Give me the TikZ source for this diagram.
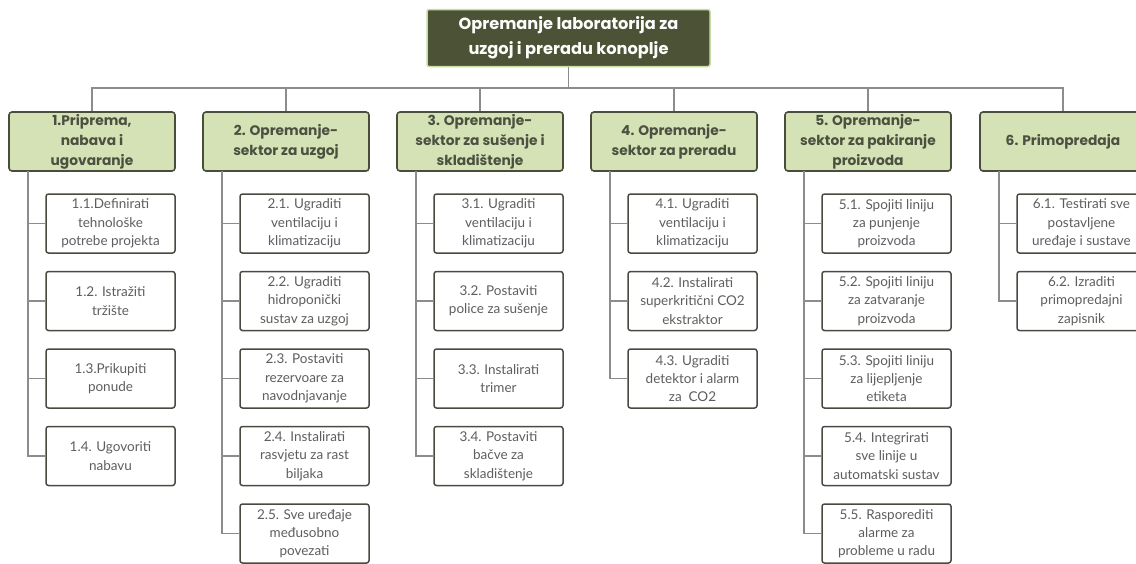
\documentclass[tikz,border=0pt]{standalone}
\usepackage{fontspec}
\setmainfont{Poppins}
\newfontfamily\leaffont{Lato}
\usetikzlibrary{positioning}

\definecolor{rootfill}{HTML}{4B5236}
\definecolor{rootedge}{HTML}{C9DCA5}
\definecolor{catfill}{HTML}{D5E2B5}
\definecolor{catedge}{HTML}{4A4C3C}
\definecolor{cattext}{HTML}{4B5040}
\definecolor{leafedge}{HTML}{4A4A42}
\definecolor{leaftext}{HTML}{5E5E5E}
\definecolor{linkgray}{HTML}{8C8C8C}

\begin{document}
\begin{tikzpicture}[x=1pt,y=-1pt,
		rootbox/.style={rectangle,rounded corners=2pt,draw=rootedge,line width=1.5pt,fill=rootfill,text=white!94!rootedge,minimum width=283pt,minimum height=57pt,inner sep=0pt,align=center,font=\bfseries\fontsize{16.2}{25}\selectfont},
		catbox/.style={rectangle,rounded corners=3pt,draw=catedge,line width=1.6pt,fill=catfill,text=cattext,minimum width=166pt,minimum height=59pt,inner sep=0pt,align=center,font=\bfseries\fontsize{13.8}{20}\selectfont},
		leafbox/.style={rectangle,rounded corners=2.5pt,draw=leafedge,line width=1.5pt,fill=white,text=leaftext,minimum width=129pt,minimum height=59pt,inner sep=0pt,align=center,font=\leaffont\fontsize{13.5}{18.3}\selectfont},
		link/.style={draw=linkgray,line width=1.2pt}]
	\useasboundingbox (0,0) rectangle (1136,563);
	%% define root
	\node (root) at (568.5,38) [rootbox] {Opremanje laboratorija za\\uzgoj i preradu konoplje};
	\coordinate (bar) at (568.5,88);
	%% define sectors
	\node (c1) at (92,141.5) [catbox] {1.Priprema,\\nabava i\\ugovaranje};
	\node (c2) at (286,141.5) [catbox] {2. Opremanje-\\sektor za uzgoj};
	\node (c3) at (480,141.5) [catbox] {3. Opremanje-\\sektor za sušenje i\\skladištenje};
	\node (c4) at (674,141.5) [catbox] {4. Opremanje-\\sektor za preradu};
	\node (c5) at (868,141.5) [catbox] {5. Opremanje-\\sektor za pakiranje\\proizvoda};
	\node (c6) at (1063,141.5) [catbox] {6. Primopredaja};
	%% trunk tops
	\coordinate (t1) at (28,171);
	\coordinate (t2) at (222,171);
	\coordinate (t3) at (416,171);
	\coordinate (t4) at (610,171);
	\coordinate (t5) at (804,171);
	\coordinate (t6) at (999,171);
	%% define tasks
	\node (l11) at (110.5,223.5) [leafbox] {1.1.Definirati\\tehnološke\\potrebe projekta};
	\node (l12) at (110.5,301) [leafbox] {1.2. Istražiti\\tržište};
	\node (l13) at (110.5,378.5) [leafbox] {1.3.Prikupiti\\ponude};
	\node (l14) at (110.5,456) [leafbox] {1.4. Ugovoriti\\nabavu};
	%
	\node (l21) at (304.5,223.5) [leafbox] {2.1. Ugraditi\\ventilaciju i\\klimatizaciju};
	\node (l22) at (304.5,301) [leafbox] {2.2. Ugraditi\\hidroponički\\sustav za uzgoj};
	\node (l23) at (304.5,378.5) [leafbox] {2.3. Postaviti\\rezervoare za\\navodnjavanje};
	\node (l24) at (304.5,456) [leafbox] {2.4. Instalirati\\rasvjetu za rast\\biljaka};
	\node (l25) at (304.5,533.5) [leafbox] {2.5. Sve uređaje\\međusobno\\povezati};
	%
	\node (l31) at (498.5,223.5) [leafbox] {3.1. Ugraditi\\ventilaciju i\\klimatizaciju};
	\node (l32) at (498.5,301) [leafbox] {3.2. Postaviti\\police za sušenje};
	\node (l33) at (498.5,378.5) [leafbox] {3.3. Instalirati\\trimer};
	\node (l34) at (498.5,456) [leafbox] {3.4. Postaviti\\bačve za\\skladištenje};
	%
	\node (l41) at (692.5,223.5) [leafbox] {4.1. Ugraditi\\ventilaciju i\\klimatizaciju};
	\node (l42) at (692.5,301) [leafbox] {4.2. Instalirati\\superkritični CO2\\ekstraktor};
	\node (l43) at (692.5,378.5) [leafbox] {4.3. Ugraditi\\detektor i alarm\\za~~CO2};
	%
	\node (l51) at (886.5,223.5) [leafbox] {5.1. Spojiti liniju\\za punjenje\\proizvoda};
	\node (l52) at (886.5,301) [leafbox] {5.2. Spojiti liniju\\za zatvaranje\\proizvoda};
	\node (l53) at (886.5,378.5) [leafbox] {5.3. Spojiti liniju\\za lijepljenje\\etiketa};
	\node (l54) at (886.5,456) [leafbox] {5.4. Integrirati\\sve linije u\\automatski sustav};
	\node (l55) at (886.5,533.5) [leafbox] {5.5. Rasporediti\\alarme za\\probleme u radu};
	%
	\node (l61) at (1081.5,223.5) [leafbox] {6.1. Testirati sve\\postavljene\\uređaje i sustave};
	\node (l62) at (1081.5,301) [leafbox] {6.2. Izraditi\\primopredajni\\zapisnik};
	%% define links
	\draw[link] (root) -- (bar);
	\draw[link] (bar) -| (c1);
	\draw[link] (bar) -| (c2);
	\draw[link] (bar) -| (c3);
	\draw[link] (bar) -| (c4);
	\draw[link] (bar) -| (c5);
	\draw[link] (bar) -| (c6);
	\draw[link] (t1) |- (l11);
	\draw[link] (t1) |- (l12);
	\draw[link] (t1) |- (l13);
	\draw[link] (t1) |- (l14);
	\draw[link] (t2) |- (l21);
	\draw[link] (t2) |- (l22);
	\draw[link] (t2) |- (l23);
	\draw[link] (t2) |- (l24);
	\draw[link] (t2) |- (l25);
	\draw[link] (t3) |- (l31);
	\draw[link] (t3) |- (l32);
	\draw[link] (t3) |- (l33);
	\draw[link] (t3) |- (l34);
	\draw[link] (t4) |- (l41);
	\draw[link] (t4) |- (l42);
	\draw[link] (t4) |- (l43);
	\draw[link] (t5) |- (l51);
	\draw[link] (t5) |- (l52);
	\draw[link] (t5) |- (l53);
	\draw[link] (t5) |- (l54);
	\draw[link] (t5) |- (l55);
	\draw[link] (t6) |- (l61);
	\draw[link] (t6) |- (l62);
\end{tikzpicture}
\end{document}
